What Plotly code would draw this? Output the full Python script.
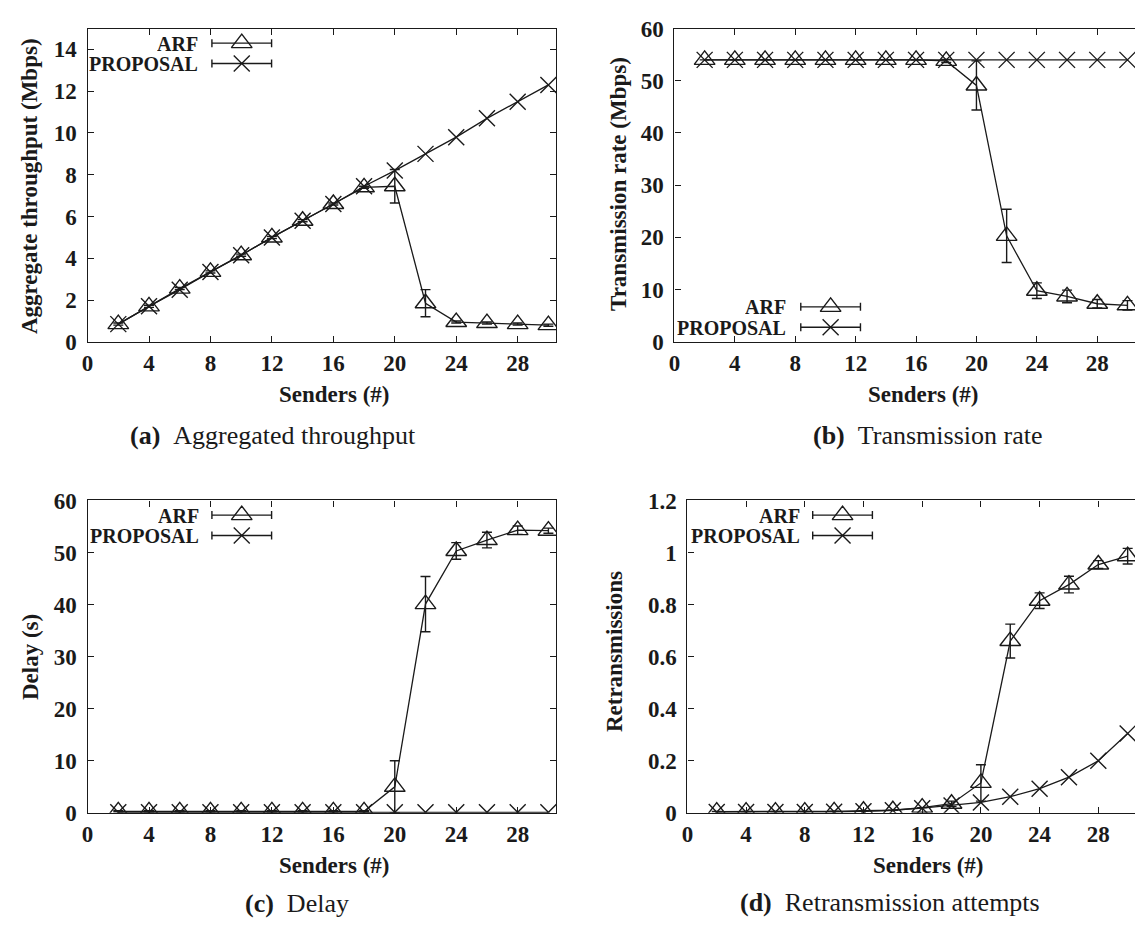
import plotly.graph_objects as go

W, H = 1135, 929

# ---------------- data ----------------
senders = [2, 4, 6, 8, 10, 12, 14, 16, 18, 20, 22, 24, 26, 28, 30]
x_ticks = [0, 4, 8, 12, 16, 20, 24, 28]

thr_arf = [0.85, 1.7, 2.55, 3.35, 4.15, 5.0, 5.8, 6.6, 7.4, 7.45, 1.85, 0.95, 0.9, 0.85, 0.8]
thr_arf_err = [0.05, 0.05, 0.05, 0.05, 0.05, 0.05, 0.05, 0.05, 0.05, 0.8, 0.65, 0.05, 0.05, 0.05, 0.05]
thr_prop = [0.85, 1.7, 2.5, 3.35, 4.15, 5.0, 5.8, 6.6, 7.45, 8.2, 9.0, 9.8, 10.7, 11.5, 12.3]

rate_arf = [54, 54, 54, 54, 54, 54, 54, 54, 53.8, 49.1, 20.3, 9.8, 8.7, 7.3, 7.0]
rate_arf_err = [0, 0, 0, 0, 0, 0, 0, 0, 0.3, 4.7, 5.1, 1.5, 1.2, 0.8, 0.9]
rate_prop = [54, 54, 54, 54, 54, 54, 54, 54, 54, 54, 54, 54, 54, 54, 54]

delay_arf = [0.3, 0.3, 0.3, 0.3, 0.3, 0.3, 0.3, 0.3, 0.3, 5.0, 40.1, 50.3, 52.4, 54.3, 54.2]
delay_arf_err = [0.1, 0.1, 0.1, 0.1, 0.1, 0.1, 0.1, 0.1, 0.1, 5.0, 5.3, 1.6, 1.5, 0.8, 0.5]
delay_prop = [0.1, 0.1, 0.1, 0.1, 0.1, 0.1, 0.1, 0.1, 0.1, 0.1, 0.1, 0.1, 0.1, 0.1, 0.1]

retx_arf = [0.005, 0.005, 0.005, 0.005, 0.006, 0.008, 0.01, 0.02, 0.035, 0.115, 0.66, 0.815, 0.877, 0.954, 0.986]
retx_arf_err = [0, 0, 0, 0, 0, 0, 0, 0, 0.01, 0.07, 0.065, 0.03, 0.032, 0.015, 0.03]
retx_prop = [0.003, 0.003, 0.003, 0.003, 0.004, 0.006, 0.01, 0.018, 0.028, 0.04, 0.062, 0.093, 0.137, 0.2, 0.305]

y_ticks_thr = [0, 2, 4, 6, 8, 10, 12, 14]
y_ticks_rate = [0, 10, 20, 30, 40, 50, 60]
y_ticks_delay = [0, 10, 20, 30, 40, 50, 60]
y_ticks_retx = [0, 0.2, 0.4, 0.6, 0.8, 1, 1.2]
y_ticktext_retx = ["0", "0.2", "0.4", "0.6", "0.8", "1", "1.2"]

series_names = ["ARF", "PROPOSAL"]
y_titles = ["Aggregate throughput (Mbps)", "Transmission rate (Mbps)", "Delay (s)", "Retransmissions"]
x_title = "Senders (#)"
captions = [("(a)", "Aggregated throughput"), ("(b)", "Transmission rate"),
            ("(c)", "Delay"), ("(d)", "Retransmission attempts")]

# ---------------- layout geometry (pixels) ----------------
panels = [
    dict(x0=82, x1=553, yt=17, yb=339),
    dict(x0=672, x1=1135, yt=17, yb=339),
    dict(x0=82, x1=553, yt=502, yb=823),
    dict(x0=685, x1=1135, yt=502, yb=823),
]
y_ranges = [[0, 15], [0, 60], [0, 60], [0, 1.2]]
x_range = [0, 30.5]

INK = "#1a1a1a"
GP_FONT = "Liberation Serif"
TRI_SIZE = 18
X_SIZE = 16

def px(x):
    return x / W

def py(y):
    return 1 - y / H

fig = go.Figure()

data_sets = [
    (thr_arf, thr_arf_err, thr_prop),
    (rate_arf, rate_arf_err, rate_prop),
    (delay_arf, delay_arf_err, delay_prop),
    (retx_arf, retx_arf_err, retx_prop),
]

for i, (arf, arf_err, prop) in enumerate(data_sets):
    k = "" if i == 0 else str(i + 1)
    xa, ya = "x" + k, "y" + k
    fig.add_trace(go.Scatter(
        x=senders, y=prop, xaxis=xa, yaxis=ya, mode="lines+markers",
        name=series_names[1], showlegend=False,
        line=dict(color=INK, width=1.3),
        marker=dict(symbol="x-thin-open", size=X_SIZE, line=dict(color=INK, width=1.4)),
    ))
    fig.add_trace(go.Scatter(
        x=senders, y=arf, xaxis=xa, yaxis=ya, mode="lines+markers",
        name=series_names[0], showlegend=False,
        line=dict(color=INK, width=1.3),
        marker=dict(symbol="triangle-up-open", size=TRI_SIZE, line=dict(color=INK, width=1.4)),
        error_y=dict(type="data", array=arf_err, visible=True, color=INK, thickness=1.4, width=5),
    ))

    p = panels[i]
    axis_common = dict(
        showline=True, linecolor=INK, linewidth=1.3, showgrid=False, zeroline=False,
        ticks="inside", ticklen=6, tickwidth=1.2, tickcolor=INK,
        tickfont=dict(family=GP_FONT, size=23, color=INK, weight="bold"),
        fixedrange=True,
    )
    fig.update_layout(**{
        "xaxis" + k: dict(
            domain=[px(p["x0"]), px(p["x1"])], anchor=ya, range=x_range,
            tickvals=x_ticks, mirror="ticks", **axis_common),
        "yaxis" + k: dict(
            domain=[py(p["yb"]), py(p["yt"])], anchor=xa, range=y_ranges[i],
            ticklabelstandoff=5,
            mirror="ticks" if i in (0, 2) else False, **axis_common),
    })

fig.update_layout(
    yaxis=dict(tickvals=y_ticks_thr),
    yaxis2=dict(tickvals=y_ticks_rate),
    yaxis3=dict(tickvals=y_ticks_delay),
    yaxis4=dict(tickvals=y_ticks_retx, ticktext=y_ticktext_retx),
)

# ---------------- legends (overlay pixel axis) ----------------
fig.update_layout(
    xaxis9=dict(domain=[0, 1], range=[0, W], visible=False, fixedrange=True, anchor="y9"),
    yaxis9=dict(domain=[0, 1], range=[H, 0], visible=False, fixedrange=True, anchor="x9"),
)
legend_pos = [  # text right edge, sample centre, row1 y, row2 y
    (194, 237, 32, 53),
    (785, 829, 303, 324),
    (195, 237, 517, 538),
    (799, 841, 517, 538),
]
annotations = []
for (tx, sx, r1, r2) in legend_pos:
    for name, ry, sym, sz in [(series_names[0], r1, "triangle-up-open", TRI_SIZE),
                              (series_names[1], r2, "x-thin-open", X_SIZE)]:
        fig.add_trace(go.Scatter(
            x=[sx], y=[ry], xaxis="x9", yaxis="y9", mode="markers", showlegend=False,
            marker=dict(symbol=sym, size=sz, color=INK, line=dict(color=INK, width=1.4)),
            error_x=dict(type="constant", value=30, color=INK, thickness=1.4, width=4),
            hoverinfo="skip",
        ))
        annotations.append(dict(
            x=px(tx), y=py(ry), xref="paper", yref="paper", xanchor="right", yanchor="middle",
            text=name, showarrow=False, height=19, borderpad=0,
            font=dict(family=GP_FONT, size=20, color=INK, weight="bold")))

# ---------------- axis titles & captions ----------------
x_title_pos = [(330, 393), (922, 393), (330, 877), (927, 877)]
y_title_pos = [(23, 179), (615, 177), (24, 663), (612, 657)]
caption_pos = [(268, 435), (926, 435), (293, 916), (889, 915)]
for i in range(4):
    annotations.append(dict(
        x=px(x_title_pos[i][0]), y=py(x_title_pos[i][1]), xref="paper", yref="paper",
        xanchor="center", yanchor="middle", text=x_title, showarrow=False,
        font=dict(family=GP_FONT, size=23, color=INK, weight="bold")))
    annotations.append(dict(
        x=px(y_title_pos[i][0]), y=py(y_title_pos[i][1]), xref="paper", yref="paper",
        xanchor="center", yanchor="middle", text=y_titles[i], showarrow=False, textangle=-90,
        font=dict(family=GP_FONT, size=23, color=INK, weight="bold")))
    lab, txt = captions[i]
    annotations.append(dict(
        x=px(caption_pos[i][0]), y=py(caption_pos[i][1]), xref="paper", yref="paper",
        xanchor="center", yanchor="middle", text="<b>" + lab + "</b>\u2002" + txt, showarrow=False,
        font=dict(family=GP_FONT, size=26, color=INK)))

fig.update_layout(
    width=W, height=H, margin=dict(l=0, r=0, t=0, b=0),
    paper_bgcolor="white", plot_bgcolor="rgba(0,0,0,0)",
    showlegend=False, annotations=annotations,
)

fig.write_html("out.html", config={"displayModeBar": False})
